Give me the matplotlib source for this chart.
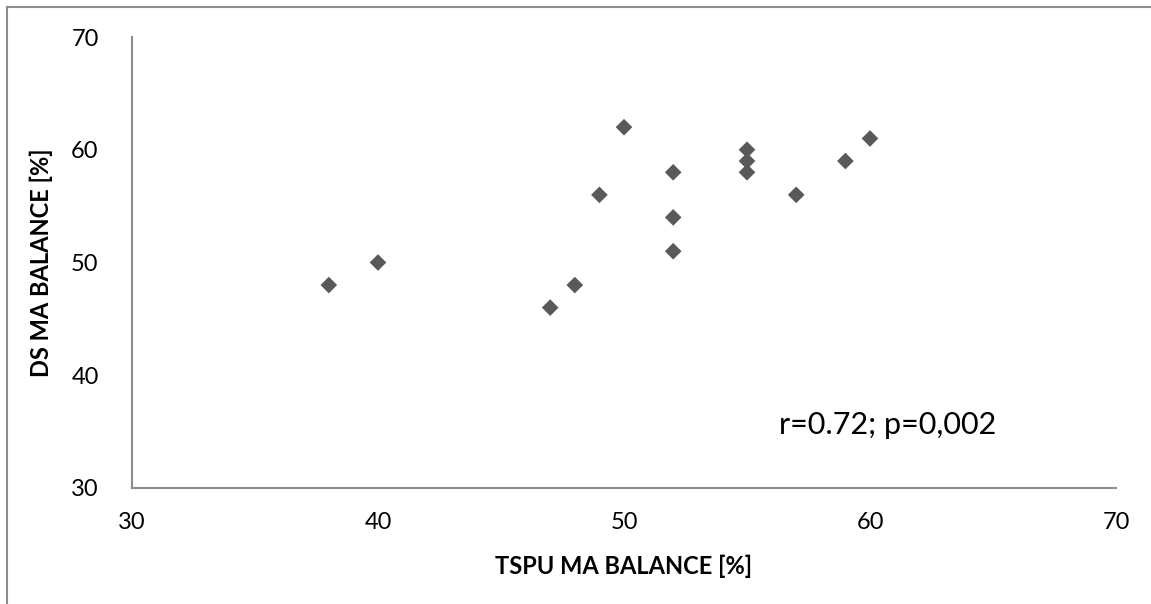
"""Scatter of TSPU vs DS MA balance."""
import matplotlib
matplotlib.use("Agg")
from matplotlib import pyplot as plt
from matplotlib.lines import Line2D

tspu_balance = [38, 40, 47, 48, 49, 50, 52, 52, 52, 55, 55, 55, 57, 59, 60]
ds_balance = [48, 50, 46, 48, 56, 62, 58, 54, 51, 60, 59, 58, 56, 59, 61]
ticks = [30, 40, 50, 60, 70]
note = "r=0.72; p=0,002"

plt.rcParams['font.family'] = ['Lato', 'DejaVu Sans']

W, H = 1151, 604
fig = plt.figure(figsize=(W / 100, H / 100), dpi=100)
ax = fig.add_axes([132 / W, 1 - 488 / H, (1116 - 132) / W, (488 - 37) / H])

ax.scatter(tspu_balance, ds_balance, marker='D', s=72, color='#595959',
           edgecolors='none', zorder=3)

ax.set_xlim(30, 70)
ax.set_ylim(30, 70)
ax.set_xticks(ticks)
ax.set_yticks(ticks)
ax.tick_params(length=0, labelsize=17, colors='black')
ax.tick_params(axis='x', pad=17)
ax.tick_params(axis='y', pad=24)
for side in ['top', 'right']:
    ax.spines[side].set_visible(False)
for side in ['left', 'bottom']:
    ax.spines[side].set_color('#8c8c8c')
    ax.spines[side].set_linewidth(1.5)

ax.set_xlabel('TSPU MA BALANCE [%]', fontsize=17, fontweight='bold', labelpad=16)
ax.set_ylabel('DS MA BALANCE [%]', fontsize=17, fontweight='bold', labelpad=13)

ax.text(56.3, 35.6, note, fontsize=22, va='center', ha='left')

# chart border (only top and left visible in crop)
fig.add_artist(Line2D([7 / W, 1], [1 - 7 / H, 1 - 7 / H], color='#8c8c8c', lw=1.5))
fig.add_artist(Line2D([7 / W, 7 / W], [0, 1 - 7 / H], color='#8c8c8c', lw=1.5))

plt.savefig('out.png', dpi=100)
plt.close()
